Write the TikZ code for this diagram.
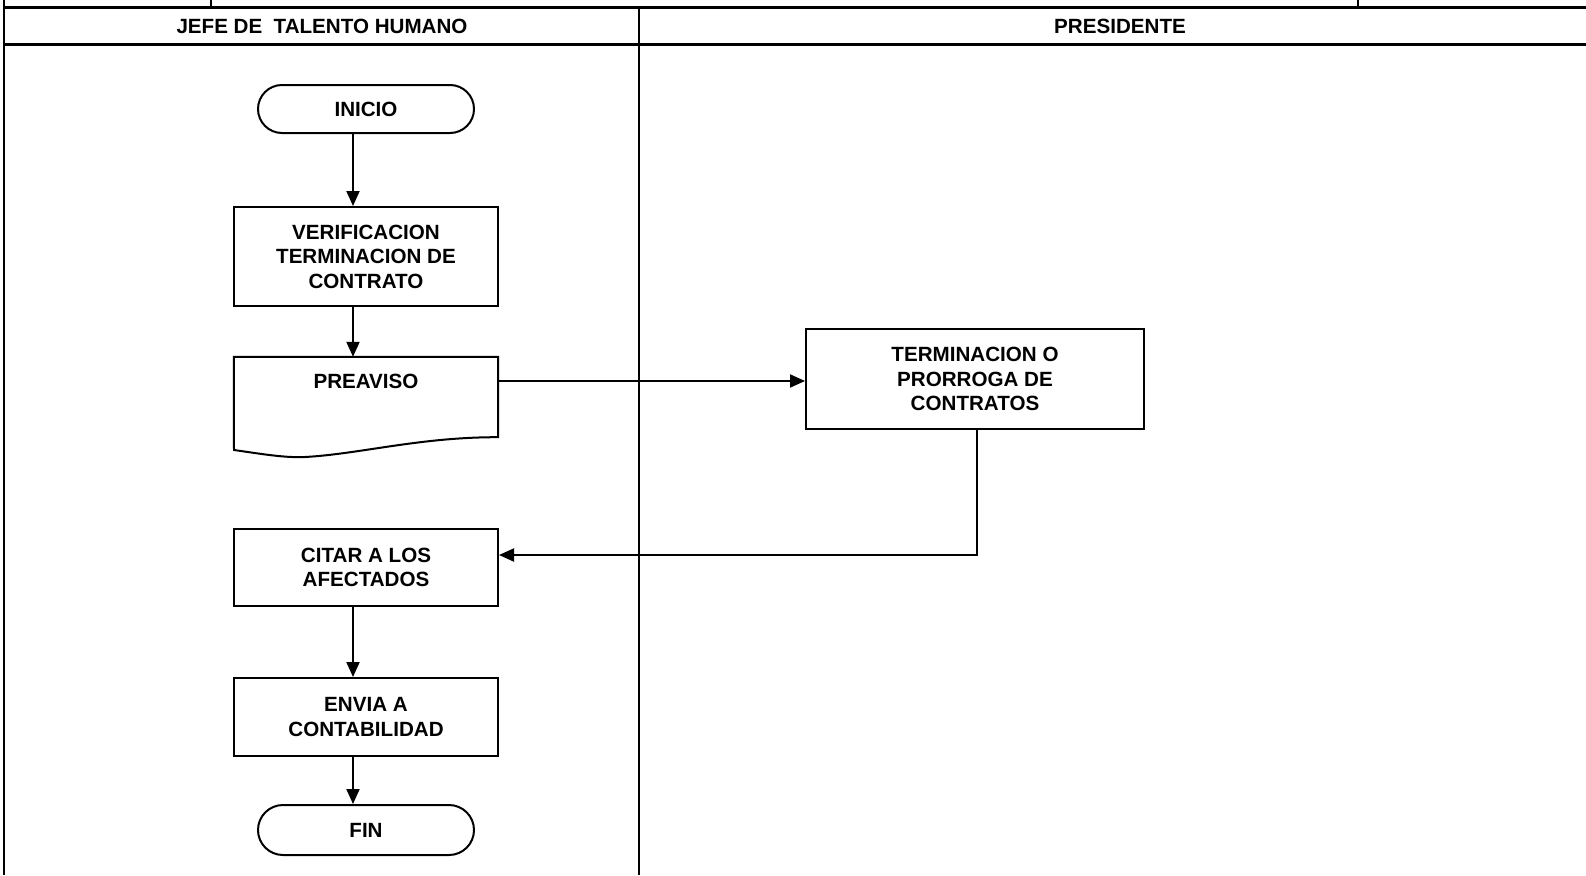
\documentclass[tikz,border=0pt]{standalone}
\usepackage{fontspec}
\setmainfont{Liberation Sans}
\usetikzlibrary{arrows.meta}
\begin{document}
\begin{tikzpicture}[x=1pt,y=-1pt,
  lane/.style={line width=2pt},
  hline/.style={line width=3pt},
  txt/.style={font=\bfseries\fontsize{20.6}{24.5}\selectfont, align=center, inner sep=0pt},
  procbox/.style={draw, line width=2pt, txt, minimum width=264pt},
  term/.style={draw, line width=2pt, txt, minimum width=216pt, minimum height=48pt, rounded corners=24pt},
  arr/.style={line width=2pt, -{Triangle[length=15pt,width=13pt]}},
  conn/.style={line width=2pt}
]
\useasboundingbox (0,0) rectangle (1586,875);
% frame and lanes
\draw[hline] (3,8) -- (1586,8);
\draw[hline] (3,44.5) -- (1586,44.5);
\draw[lane] (4,0) -- (4,875);
\draw[lane] (639,8) -- (639,875);
\draw[lane] (211,0) -- (211,8);
\draw[lane] (1358,0) -- (1358,8);
\node[txt] (h1) at (322,26) {JEFE DE\hspace{0.55em}TALENTO HUMANO};
\node[txt] (h2) at (1120,26) {PRESIDENTE};
% axis for vertical arrows
\coordinate (axis) at (353,0);
% nodes
\node[term] (inicio) at (366,109) {INICIO};
\node[procbox, minimum height=99pt] (verif) at (366,256.5) {VERIFICACION\\TERMINACION DE\\CONTRATO};
\node[minimum width=264pt, minimum height=80pt, inner sep=0pt] (prev) at (366,397) {};
\draw[line width=2pt] (prev.south east) -- (prev.north east) -- (prev.north west) -- (234,450)
  .. controls (262,454) and (285,458) .. (305,457)
  .. controls (360,454) and (420,437) .. (prev.south east) -- cycle;
\node[txt] (prevlbl) at (366,381) {PREAVISO};
\node[procbox, minimum width=338pt, minimum height=100pt] (termc) at (975,379) {TERMINACION O\\PRORROGA DE\\CONTRATOS};
\node[procbox, minimum height=77pt] (citar) at (366,567.5) {CITAR A LOS\\AFECTADOS};
\node[procbox, minimum height=78pt] (envia) at (366,717) {ENVIA A\\CONTABILIDAD};
\node[term, minimum height=50pt, rounded corners=25pt] (fin) at (366,830) {FIN};
% connectors
\draw[arr] (inicio.south -| axis) -- (verif.north -| axis);
\draw[arr] (verif.south -| axis) -- (prev.north -| axis);
\draw[arr] (prevlbl -| prev.east) -- (prevlbl -| termc.west);
\coordinate (bend) at (977,555);
\draw[arr] (termc.south -| bend) -- (bend) -- (bend -| citar.east);
\draw[arr] (citar.south -| axis) -- (envia.north -| axis);
\draw[arr] (envia.south -| axis) -- (fin.north -| axis);
\end{tikzpicture}
\end{document}
